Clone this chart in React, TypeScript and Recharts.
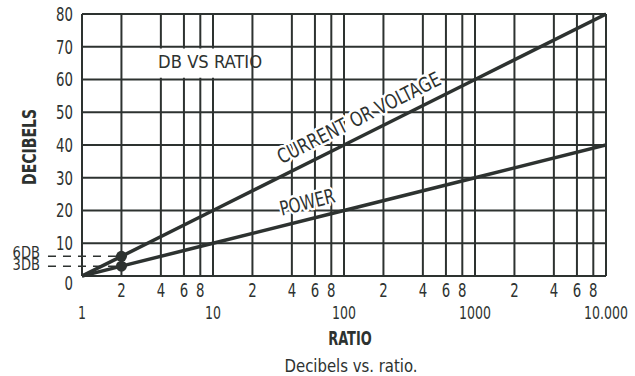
import React from 'react';
import {
  LineChart,
  Line,
  XAxis,
  YAxis,
  CartesianGrid,
  ReferenceDot,
  ReferenceLine,
  ReferenceArea,
} from 'recharts';

const INK = '#2d3230';
const FONT = "'DejaVu Sans Condensed', 'Liberation Sans', sans-serif";

// data
const ratios = [1, 2, 10, 100, 1000, 10000];
const currentDb = [0, 6, 20, 40, 60, 80];
const powerDb = [0, 3, 10, 20, 30, 40];

// axis ticks / labels
const xTicks = [1, 2, 4, 6, 8, 10, 20, 40, 60, 80, 100, 200, 400, 600, 800, 1000, 2000, 4000, 6000, 8000, 10000];
const xTickLabels = ['1', '2', '4', '6', '8', '10', '2', '4', '6', '8', '100', '2', '4', '6', '8', '1000', '2', '4', '6', '8', '10.000'];
const decades = [1, 10, 100, 1000, 10000];
const yTicks = [0, 10, 20, 30, 40, 50, 60, 70, 80];

// markers
const markerRatio = 2;
const markerDb = [6, 3];
const markerLabels = ['6DB', '3DB'];
const dashStartRatio = 0.55;

const data = ratios.map((r, i) => ({ ratio: r, current: currentDb[i], power: powerDb[i] }));

const Narrow = ({ x, y, sx = 0.75, anchor = 'middle', size = 20, weight = 'normal', baseline, children }: any) => (
  <g transform={`translate(${x},${y}) scale(${sx},1)`}>
    <text
      x={0}
      y={0}
      textAnchor={anchor}
      dominantBaseline={baseline}
      fontFamily={FONT}
      fontSize={size}
      fontWeight={weight}
      fill={INK}
    >
      {children}
    </text>
  </g>
);

const XTick = (props: any) => {
  const { x, y, payload } = props;
  const idx = xTicks.indexOf(payload.value);
  const label = idx >= 0 ? xTickLabels[idx] : String(payload.value);
  const isDecade = decades.includes(payload.value);
  return isDecade ? (
    <Narrow x={x} y={y + 43} size={17} sx={0.82}>
      {label}
    </Narrow>
  ) : (
    <Narrow x={x} y={y + 21} size={20} sx={0.74}>
      {label}
    </Narrow>
  );
};

const YTick = (props: any) => {
  const { x, y, payload } = props;
  return (
    <Narrow x={x - 9} y={y + (payload.value === 0 ? 7 : 0)} anchor="end" baseline="central" sx={0.74}>
      {payload.value}
    </Narrow>
  );
};

const makeText = (text: string, angle: number, size: number, length: number) => (p: any) => (
  <text
    x={p.cx}
    y={p.cy}
    transform={`rotate(${angle} ${p.cx} ${p.cy})`}
    textAnchor="middle"
    fontFamily={FONT}
    fontSize={size}
    fill={INK}
    stroke="#fff"
    strokeWidth={5}
    strokeLinejoin="round"
    paintOrder="stroke"
    textLength={length}
    lengthAdjust="spacingAndGlyphs"
  >
    {text}
  </text>
);

const makeSideLabel = (text: string, dy: number) => (p: any) => (
  <Narrow x={p.cx - 8} y={p.cy + dy} anchor="end" size={15} sx={0.97}>
    {text}
  </Narrow>
);

export default function App() {
  return (
    <div style={{ position: 'absolute', left: 0, top: 0, background: '#fff' }}>
      <LineChart
        width={635}
        height={376}
        data={data}
        margin={{ top: 14, right: 29, bottom: 0, left: 0 }}
      >
        <CartesianGrid stroke={INK} strokeWidth={2} />
        <XAxis
          dataKey="ratio"
          type="number"
          scale="log"
          domain={[1, 10000]}
          ticks={xTicks}
          interval={0}
          allowDataOverflow
          axisLine={false}
          tickLine={false}
          tickSize={0}
          tickMargin={0}
          height={100}
          tick={<XTick />}
          label={{
            content: (p: any) => {
              const vb = p.viewBox || {};
              const cx = (vb.x ?? 82) + (vb.width ?? 524) / 2;
              const top = vb.y ?? 276;
              return (
                <g>
                  <Narrow x={cx + 6} y={top + 69} size={20} weight="bold" sx={0.72}>
                    RATIO
                  </Narrow>
                  <text x={cx + 7} y={top + 96} textAnchor="middle" fontFamily={FONT} fontSize={18} fill={INK} textLength={133} lengthAdjust="spacingAndGlyphs">
                    Decibels vs. ratio.
                  </text>
                </g>
              );
            },
          }}
        />
        <YAxis
          type="number"
          domain={[0, 80]}
          ticks={yTicks}
          interval={0}
          width={82}
          axisLine={false}
          tickLine={false}
          tickSize={0}
          tickMargin={0}
          tick={<YTick />}
          label={{
            content: (p: any) => {
              const vb = p.viewBox || {};
              const cx = (vb.x ?? 0) + 29;
              const cy = (vb.y ?? 14) + (vb.height ?? 262) / 2 + 2;
              return (
                <text
                  x={cx}
                  y={cy}
                  transform={`rotate(-90 ${cx} ${cy})`}
                  textAnchor="middle"
                  dominantBaseline="central"
                  fontFamily={FONT}
                  fontWeight="bold"
                  fontSize={19}
                  fill={INK}
                  textLength={76}
                  lengthAdjust="spacingAndGlyphs"
                >
                  DECIBELS
                </text>
              );
            },
          }}
        />
        <ReferenceArea x1={3} x2={14} y1={60.5} y2={69.5} fill="#fff" fillOpacity={1} stroke="none" />
        <Line
          dataKey="current"
          type="linear"
          stroke={INK}
          strokeWidth={3.5}
          dot={false}
          isAnimationActive={false}
        />
        <Line
          dataKey="power"
          type="linear"
          stroke={INK}
          strokeWidth={3.5}
          dot={false}
          isAnimationActive={false}
        />
        {markerDb.map((db, i) => (
          <ReferenceLine
            key={'dl' + i}
            segment={[
              { x: dashStartRatio, y: db },
              { x: markerRatio, y: db },
            ]}
            stroke={INK}
            strokeWidth={1.5}
            strokeDasharray="8 7"
            ifOverflow="visible"
          />
        ))}
        {markerDb.map((db, i) => (
          <ReferenceDot
            key={'md' + i}
            x={markerRatio}
            y={db}
            r={5.5}
            fill={INK}
            stroke="none"
            ifOverflow="visible"
          />
        ))}
        {markerDb.map((db, i) => (
          <ReferenceDot
            key={'ml' + i}
            x={dashStartRatio}
            y={db}
            r={0}
            ifOverflow="visible"
            shape={makeSideLabel(markerLabels[i], i === 0 ? 2 : 4)}
          />
        ))}
        <ReferenceDot
          x={9.5}
          y={63.5}
          r={0}
          ifOverflow="visible"
          shape={(p: any) => (
            <text x={p.cx} y={p.cy} textAnchor="middle" fontFamily={FONT} fontSize={18} fill={INK} textLength={104} lengthAdjust="spacingAndGlyphs">
              DB VS RATIO
            </text>
          )}
        />
        <ReferenceDot x={137} y={46.4} r={0} ifOverflow="visible" shape={makeText('CURRENT OR VOLTAGE', -26.57, 20, 180)} />
        <ReferenceDot x={54} y={20.5} r={0} ifOverflow="visible" shape={makeText('POWER', -14.04, 20, 56)} />
      </LineChart>
    </div>
  );
}
